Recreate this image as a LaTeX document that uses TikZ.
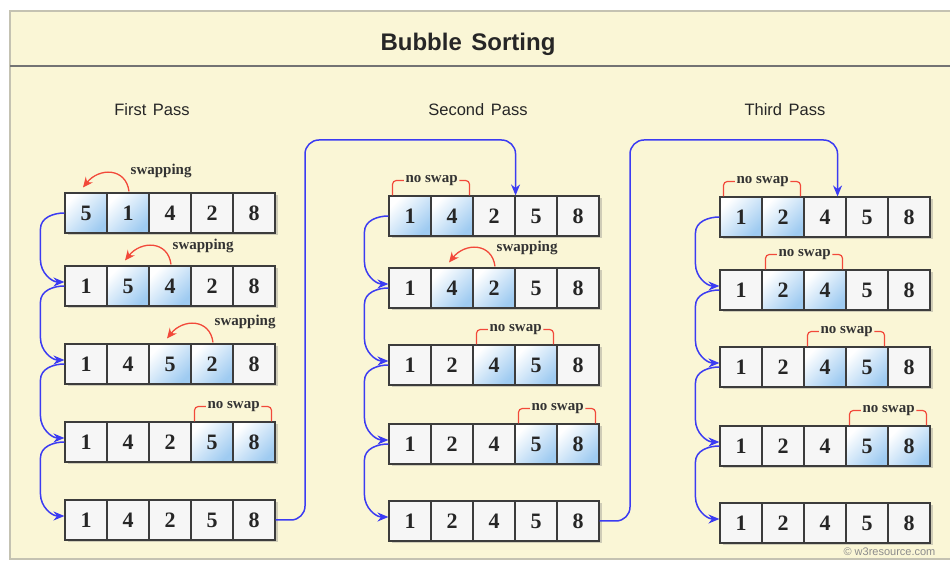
\documentclass[tikz,border=0pt]{standalone}
\usepackage{fontspec}
\setmainfont{Liberation Serif}
\newfontfamily\headfont{Liberation Sans}
\usetikzlibrary{arrows.meta,shadows,positioning}

\definecolor{paper}{HTML}{FAF6D6}
\definecolor{rim}{HTML}{C4C2B2}
\definecolor{hotblue}{HTML}{9FCBF1}
\definecolor{cellwhite}{HTML}{F6F6F6}
\definecolor{linkblue}{HTML}{3B3BF2}
\definecolor{swapred}{HTML}{F2493A}
\definecolor{boxgray}{HTML}{3C3C3C}

% One row of five cells: name, left x, centre y, value/style pairs
\newcommand{\cellrow}[4]{%
	\foreach \v/\s [count=\c] in {#4}
		\node[\s] (#1-\c) at ({#2+(\c-0.5)*42}, #3) {\v};%
}

\begin{document}
\begin{tikzpicture}[x = 1pt, y = 1pt, > = {Stealth[length=11pt, width=9pt]},
	cell/.style = {draw = boxgray, line width = 1.1pt, fill = cellwhite,
		minimum width = 42pt, minimum height = 40pt, inner sep = 0pt,
		text = black!85, font = \fontsize{22}{24}\selectfont\bfseries,
		drop shadow = {shadow xshift = 2.5pt, shadow yshift = -2.5pt, opacity = 0.35}},
	hot/.style = {cell, shading = axis, top color = white, bottom color = hotblue,
		shading angle = 45},
	link/.style = {linkblue, line width = 1.5pt, ->},
	swap/.style = {swapred, line width = 1.3pt, -{Stealth[length=10pt, width=9pt]}},
	bracket/.style = {swapred, line width = 1.2pt, rounded corners = 4pt},
	note/.style = {text = black!80, inner sep = 1.5pt,
		font = \fontsize{15}{17}\selectfont\bfseries},
	passlabel/.style = {text = black!85, font = \headfont\fontsize{16.5}{19}\selectfont}]

	\useasboundingbox (0, 0) rectangle (950, 562);

	% Panel and title

	\fill [paper] (10, 3) rectangle (950, 551);
	\draw [rim, line width = 1.5pt] (950, 551) -- (10, 551) -- (10, 3) -- (950, 3);
	\draw [black!55, line width = 1.2pt] (10, 496) -- (950, 496);

	\node [text = black!85, font = \headfont\fontsize{24}{28}\selectfont\bfseries] (title) at (468, 518) {Bubble\hspace{0.4em}Sorting};

	\node [passlabel] (pass1) at (152, 452) {First\hspace{0.4em}Pass};
	\node [passlabel] (pass2) at (478, 452) {Second\hspace{0.4em}Pass};
	\node [passlabel] (pass3) at (785, 452) {Third\hspace{0.4em}Pass};

	% First pass

	\cellrow{a1}{65}{349}{5/hot, 1/hot, 4/cell, 2/cell, 8/cell}
	\cellrow{a2}{65}{276}{1/cell, 5/hot, 4/hot, 2/cell, 8/cell}
	\cellrow{a3}{65}{198}{1/cell, 4/cell, 5/hot, 2/hot, 8/cell}
	\cellrow{a4}{65}{120}{1/cell, 4/cell, 2/cell, 5/hot, 8/hot}
	\cellrow{a5}{65}{42}{1/cell, 4/cell, 2/cell, 5/cell, 8/cell}

	% Second pass

	\cellrow{b1}{389}{346}{1/hot, 4/hot, 2/cell, 5/cell, 8/cell}
	\cellrow{b2}{389}{274}{1/cell, 4/hot, 2/hot, 5/cell, 8/cell}
	\cellrow{b3}{389}{197}{1/cell, 2/cell, 4/hot, 5/hot, 8/cell}
	\cellrow{b4}{389}{118}{1/cell, 2/cell, 4/cell, 5/hot, 8/hot}
	\cellrow{b5}{389}{41}{1/cell, 2/cell, 4/cell, 5/cell, 8/cell}

	% Third pass

	\cellrow{c1}{720}{345}{1/hot, 2/hot, 4/cell, 5/cell, 8/cell}
	\cellrow{c2}{720}{272}{1/cell, 2/hot, 4/hot, 5/cell, 8/cell}
	\cellrow{c3}{720}{195}{1/cell, 2/cell, 4/hot, 5/hot, 8/cell}
	\cellrow{c4}{720}{116}{1/cell, 2/cell, 4/cell, 5/hot, 8/hot}
	\cellrow{c5}{720}{39}{1/cell, 2/cell, 4/cell, 5/cell, 8/cell}

	% Swaps

	\foreach \r/\i/\j in {a1/2/1, a2/3/2, a3/4/3, b2/3/2}
		\draw [swap] ([xshift = 1pt, yshift = 1pt] \r-\i.north) .. controls +(-3, 24) and +(16, 20) .. ([xshift = -3pt, yshift = 5pt] \r-\j.north);

	\node [note, anchor = west] (sw1) at ([xshift = 1pt, yshift = 21pt] a1-2.north) {swapping};
	\node [note, anchor = west] (sw2) at ([xshift = 1pt, yshift = 19pt] a2-3.north) {swapping};
	\node [note, anchor = west] (sw3) at ([xshift = 1pt, yshift = 21pt] a3-4.north) {swapping};
	\node [note, anchor = west] (sw4) at ([xshift = 1pt, yshift = 19pt] b2-3.north) {swapping};

	% No swaps: label over the shared edge, bracket down to the two cells

	\foreach \r/\i/\j in {a4/4/5, b1/1/2, b3/3/4, b4/4/5, c1/1/2, c2/2/3, c3/3/4, c4/4/5} {
		\node [note] (ns-\r) at ([yshift = 15pt] \r-\i.north east) {no swap};
		\draw [bracket] ([xshift = 4pt] \r-\i.north west) |- (ns-\r.west);
		\draw [bracket] ([xshift = -4pt] \r-\j.north east) |- (ns-\r.east);
	}

	% Links from row to row

	\foreach \p in {a, b, c}
		\foreach \r/\s in {1/2, 2/3, 3/4, 4/5}
			\draw [link] (\p\r-1.west) to [out = 180, in = 90] ([xshift = -24pt, yshift = -16pt] \p\r-1.west)
				-- ([xshift = -24pt, yshift = 26pt] \p\s-1.west) to [out = -90, in = 180] ([yshift = 4pt] \p\s-1.west);

	% Links from pass to pass

	\coordinate (hop1) at (305, 422);
	\coordinate (hop2) at (630, 422);

	\draw [link, rounded corners = 14pt] (a5-5.east) -| (hop1) -| (b1-3.north east);
	\draw [link, rounded corners = 14pt] (b5-5.east) -| (hop2) -| ([xshift = -9pt] c1-3.north east);

	\node [font = \headfont\fontsize{11}{12}\selectfont, text = black!45, anchor = west] (copy) at (840, 10) {© w3resource.com};

\end{tikzpicture}
\end{document}
